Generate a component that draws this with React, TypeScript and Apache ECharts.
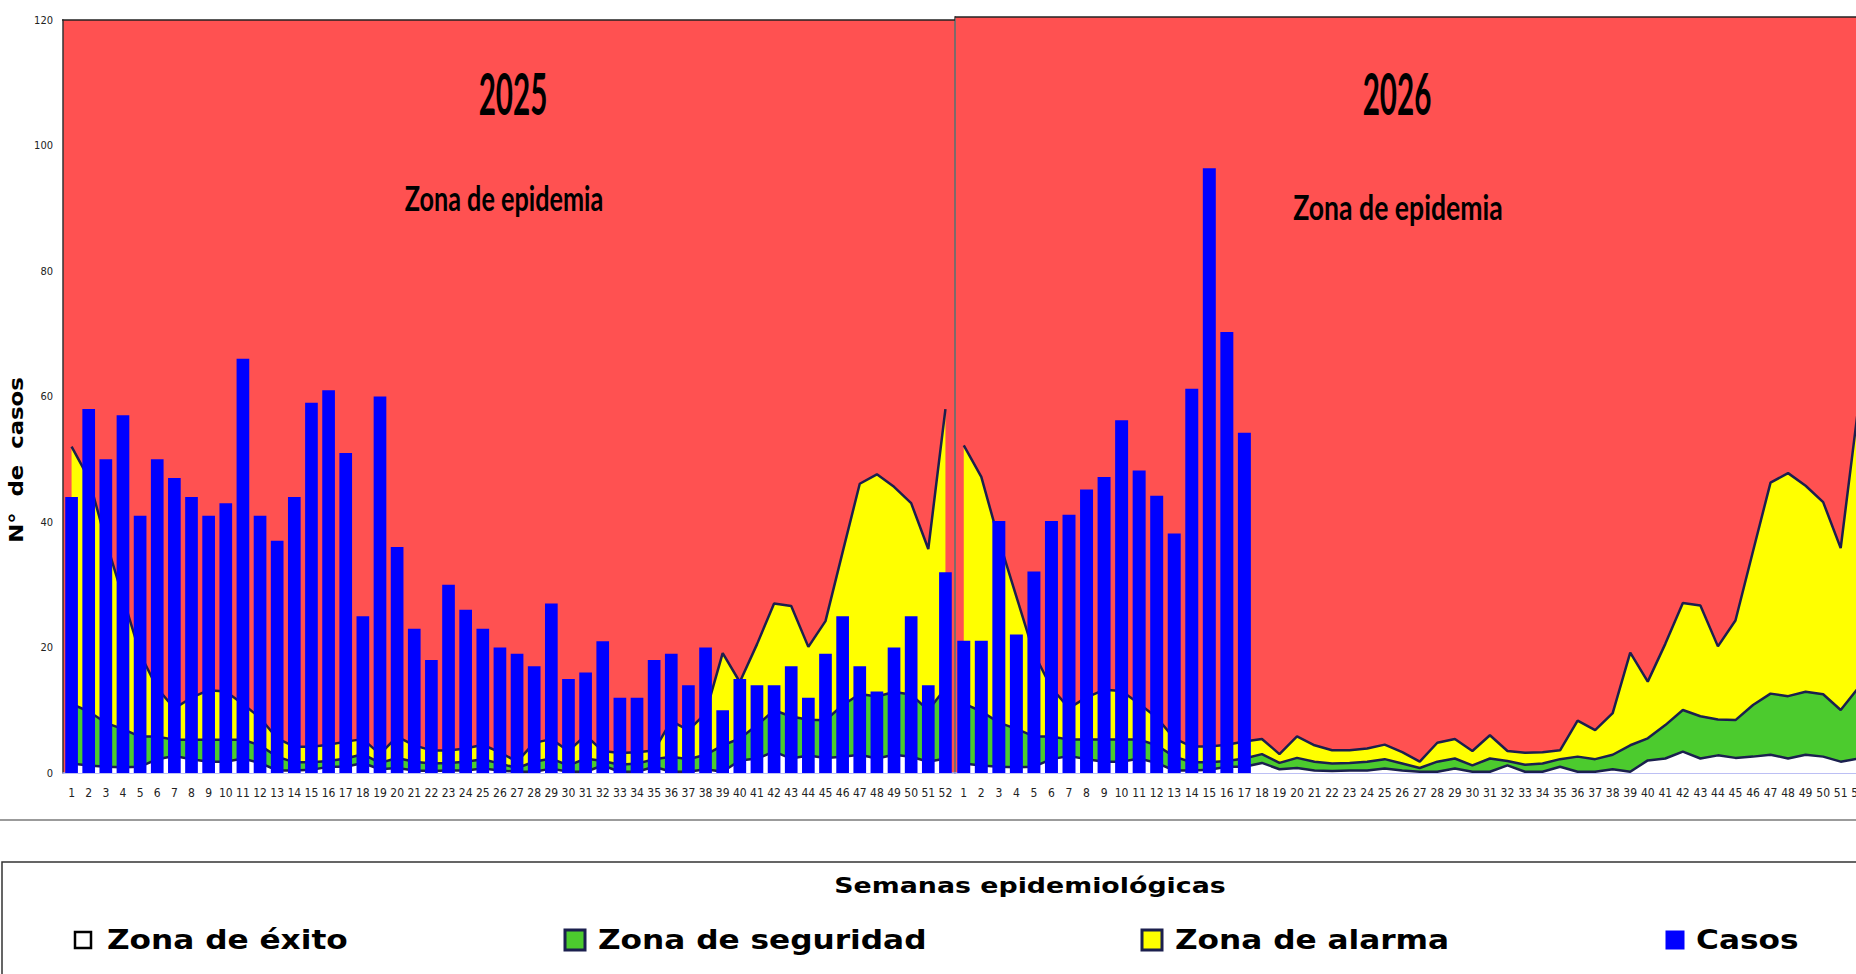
import React, { useEffect, useRef } from "react";
import * as echarts from "echarts";

// Semanas epidemiológicas (categorías)
const WEEKS = [
  "1", "2", "3", "4", "5", "6", "7", "8", "9", "10", "11", "12", "13",
  "14", "15", "16", "17", "18", "19", "20", "21", "22", "23", "24", "25", "26",
  "27", "28", "29", "30", "31", "32", "33", "34", "35", "36", "37", "38", "39",
  "40", "41", "42", "43", "44", "45", "46", "47", "48", "49", "50", "51", "52",
];

// Casos 2025
const CASOS_2025 = [
  44, 58, 50, 57, 41, 50, 47, 44, 41, 43, 66, 41, 37, 44, 59, 61, 51, 25, 60, 36,
  23, 18, 30, 26, 23, 20, 19, 17, 27, 15, 16, 21, 12, 12, 18, 19, 14, 20, 10, 15,
  14, 14, 17, 12, 19, 25, 17, 13, 20, 25, 14, 32,
];

// Casos 2026 (hasta la semana 17)
const CASOS_2026 = [
  21, 21, 40, 22, 32, 40, 41, 45, 47, 56, 48, 44, 38, 61, 96, 70, 54,
  null, null, null, null, null, null, null, null, null, null, null, null, null,
  null, null, null, null, null, null, null, null, null, null, null, null, null,
  null, null, null, null, null, null, null, null, null,
];

// Canal endémico: límite superior de la zona de alarma (Q3)
const ALARMA = [
  52, 47, 37, 28, 19, 13.5, 10.3, 12, 13.2, 13, 11, 8.8, 5.5, 4.2, 4.2, 4.5, 5, 5.4, 3, 5.8,
  4.4, 3.6, 3.6, 3.9, 4.5, 3.3, 1.8, 4.8, 5.4, 3.5, 6, 3.5, 3.2, 3.3, 3.6, 8.3, 6.8, 9.5, 19.1, 14.5,
  20.5, 27, 26.6, 20.1, 24.2, 35.2, 46.1, 47.6, 45.6, 43, 35.7, 58,
];
// Límite superior de la zona de seguridad (mediana)
const SEGURIDAD = [
  11, 9.8, 8, 7, 5.8, 5.8, 5.3, 5.3, 5.3, 5.3, 5.3, 4.4, 2.6, 1.7, 1.7, 1.9, 2.3, 3.0, 1.6, 2.4,
  1.8, 1.5, 1.6, 1.8, 2.2, 1.5, 0.8, 1.8, 2.3, 1.2, 2.3, 1.9, 1.3, 1.5, 2.2, 2.6, 2.2, 2.9, 4.4, 5.5,
  7.6, 10, 9, 8.5, 8.4, 10.8, 12.6, 12.2, 12.9, 12.5, 10, 13.5,
];
// Límite superior de la zona de éxito (Q1)
const EXITO = [
  1.5, 1.2, 1.0, 0.9, 1.0, 2.2, 2.7, 2.2, 1.8, 1.8, 2.3, 1.6, 0.4, 0.4, 0.5, 1.0, 1.0, 1.6, 0.6, 0.8,
  0.4, 0.3, 0.4, 0.4, 0.7, 0.4, 0.2, 0.2, 0.7, 0.2, 0.2, 1.2, 0.2, 0.2, 1.0, 0.2, 0.2, 0.6, 0.2, 2.0,
  2.3, 3.4, 2.3, 2.8, 2.4, 2.6, 2.9, 2.3, 2.9, 2.6, 1.8, 2.3,
];

const YEARS = ["2025", "2026"];
const ZONE_LABEL = "Zona de epidemia";
const Y_NAME = "N°  de  casos";
const X_NAME = "Semanas epidemiológicas";
const LEGEND_LABELS = ["Zona de éxito", "Zona de seguridad", "Zona de alarma", "Casos"];

const RED = "#FF5151";
const YELLOW = "#FFFF00";
const GREEN = "#4CCB2E";
const WHITE = "#FFFFFF";
const BLUE = "#0000FF";
const NAVY = "#1B1F4E";

const NARROW = "'Liberation Sans Narrow', 'DejaVu Sans Condensed', 'Arial Narrow', sans-serif";

function zoneSeries(idx: number, casos: (number | null)[]) {
  const line = (data: number[], color: string, z: number) => ({
    type: "line",
    xAxisIndex: idx,
    yAxisIndex: idx,
    data,
    symbol: "none",
    silent: true,
    lineStyle: { color: NAVY, width: 2.5 },
    areaStyle: { color, opacity: 1 },
    z,
  });
  return [
    line(ALARMA, YELLOW, 2),
    line(SEGURIDAD, GREEN, 3),
    line(EXITO, WHITE, 4),
    {
      type: "bar",
      xAxisIndex: idx,
      yAxisIndex: idx,
      data: casos,
      barWidth: "74%",
      itemStyle: { color: BLUE },
      z: 5,
    },
  ];
}

function txt(
  text: string,
  x: number,
  y: number,
  size: number,
  family: string,
  scaleX: number,
  align: string = "center",
  rotation = 0
) {
  return {
    type: "text",
    x,
    y,
    scaleX,
    rotation,
    z: 100,
    style: {
      text,
      fill: "#000",
      fontSize: size,
      fontWeight: "bold",
      fontFamily: family,
      textAlign: align,
      align,
      textVerticalAlign: "middle",
      verticalAlign: "middle",
    },
  };
}

export default function App() {
  const ref = useRef<HTMLDivElement>(null);

  useEffect(() => {
    if (!ref.current) return;
    const chart = echarts.init(ref.current, null, { renderer: "svg" });

    const xAxisCommon = {
      type: "category",
      data: WEEKS,
      boundaryGap: true,
      axisTick: { show: false },
      axisLine: { show: true, lineStyle: { color: "#A6AAF0", width: 1.5 } },
      axisLabel: {
        interval: 0,
        margin: 14,
        fontSize: 12,
        color: "#222",
        fontFamily: NARROW,
      },
      splitLine: { show: false },
    };

    const legendIcons = [
      { x: 75, fill: WHITE, stroke: "#000", w: 16 },
      { x: 565, fill: GREEN, stroke: NAVY, w: 20 },
      { x: 1142, fill: YELLOW, stroke: NAVY, w: 20 },
      { x: 1667, fill: BLUE, stroke: BLUE, w: 16 },
    ];
    const legendTextX = [107, 598, 1175, 1696];

    const graphic: any[] = [
      // top borders of plot areas
      { type: "line", shape: { x1: 62, y1: 20, x2: 955, y2: 20 }, style: { stroke: "#222", lineWidth: 1.5 }, z: 50 },
      { type: "line", shape: { x1: 955, y1: 17, x2: 1880, y2: 17 }, style: { stroke: "#222", lineWidth: 1.5 }, z: 50 },
      // separator line under chart
      { type: "line", shape: { x1: 0, y1: 820, x2: 1880, y2: 820 }, style: { stroke: "#7a7a7a", lineWidth: 1.5 }, z: 50 },
      // legend box
      { type: "rect", shape: { x: 2, y: 862, width: 1900, height: 200 }, style: { fill: "#fff", stroke: "#333", lineWidth: 1.5 }, z: 40 },
      txt(YEARS[0], 513, 93, 57, "Lato, 'Open Sans', sans-serif", 0.52),
      txt(ZONE_LABEL, 504, 197, 35, "Lato, 'Open Sans', sans-serif", 0.72),
      txt(YEARS[1], 1397, 93, 57, "Lato, 'Open Sans', sans-serif", 0.52),
      txt(ZONE_LABEL, 1398, 206, 35, "Lato, 'Open Sans', sans-serif", 0.76),
      txt(Y_NAME, 17, 460, 19, "'DejaVu Sans', sans-serif", 1.2, "center", Math.PI / 2),
      txt(X_NAME, 1030, 885, 22, "'DejaVu Sans', sans-serif", 1.22),
    ];
    legendIcons.forEach((ic, i) => {
      graphic.push({
        type: "rect",
        shape: { x: ic.x, y: 940 - ic.w / 2, width: ic.w, height: ic.w },
        style: { fill: ic.fill, stroke: ic.stroke, lineWidth: i === 0 ? 2.5 : 3 },
        z: 60,
      });
      graphic.push(txt(LEGEND_LABELS[i], legendTextX[i], 940, 26, "'DejaVu Sans', sans-serif", 1.2, "left"));
    });

    chart.setOption({
      animation: false,
      backgroundColor: "#fff",
      grid: [
        { left: 63, top: 20, width: 891, height: 753, show: true, backgroundColor: RED, borderWidth: 0 },
        { left: 955, top: 17, width: 912, height: 756, show: true, backgroundColor: RED, borderWidth: 0 },
      ],
      xAxis: [
        { ...xAxisCommon, gridIndex: 0 },
        { ...xAxisCommon, gridIndex: 1 },
      ],
      yAxis: [
        {
          type: "value",
          gridIndex: 0,
          min: 0,
          max: 120,
          interval: 20,
          axisLine: { show: true, lineStyle: { color: "#333", width: 1.5 } },
          axisTick: { show: false },
          splitLine: { show: false },
          axisLabel: { fontSize: 11, color: "#222", margin: 10, fontFamily: NARROW },
        },
        {
          type: "value",
          gridIndex: 1,
          min: 0,
          max: 120,
          interval: 20,
          axisLine: { show: true, lineStyle: { color: "#7d6a6a", width: 2 } },
          axisTick: { show: false },
          splitLine: { show: false },
          axisLabel: { show: false },
        },
      ],
      series: [...zoneSeries(0, CASOS_2025), ...zoneSeries(1, CASOS_2026)],
      graphic,
    });

    return () => chart.dispose();
  }, []);

  return (
    <div
      style={{
        position: "fixed",
        left: 0,
        top: 0,
        width: 1856,
        height: 974,
        overflow: "hidden",
        background: "#fff",
      }}
    >
      <div ref={ref} style={{ width: 1880, height: 974 }} />
    </div>
  );
}
